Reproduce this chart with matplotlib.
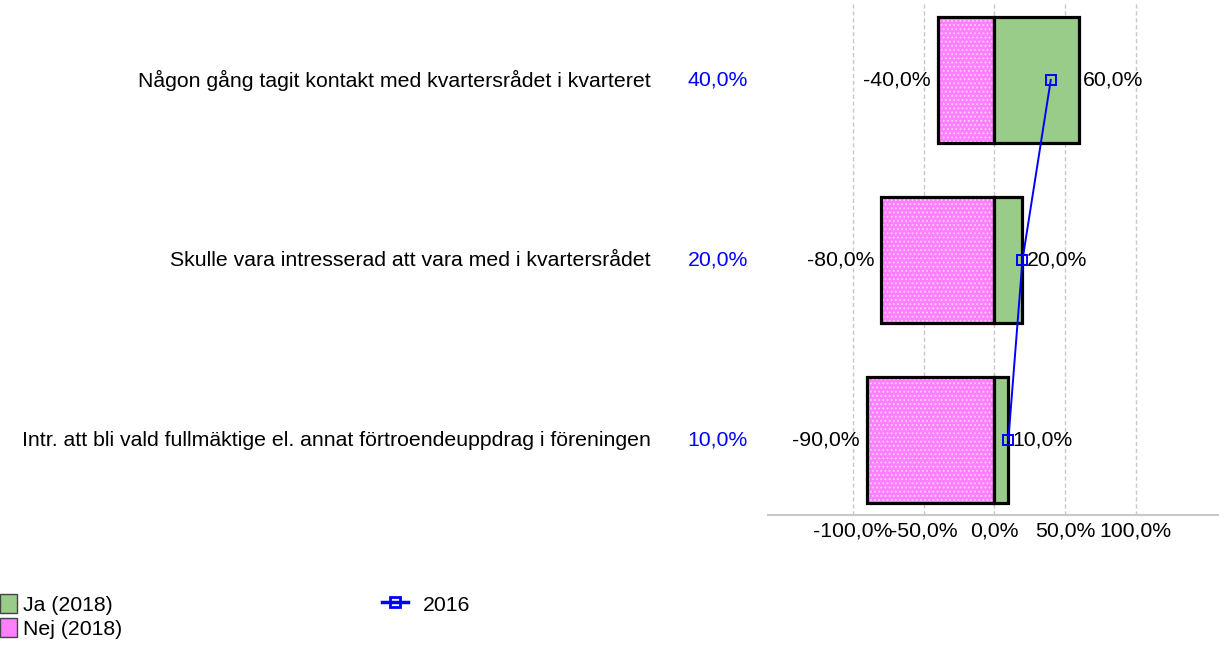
import matplotlib
matplotlib.use("Agg")
import matplotlib.pyplot as plt
from matplotlib.patches import Patch
from matplotlib.lines import Line2D
from matplotlib.transforms import blended_transform_factory

plt.rcParams["font.family"] = ["Liberation Sans", "DejaVu Sans"]
plt.rcParams["hatch.linewidth"] = 0.8

# ---- data ----
categories = [
    "Någon gång tagit kontakt med kvartersrådet i kvarteret",
    "Skulle vara intresserad att vara med i kvartersrådet",
    "Intr. att bli vald fullmäktige el. annat förtroendeuppdrag i föreningen",
]
ja_2018 = [60.0, 20.0, 10.0]
nej_2018 = [-40.0, -80.0, -90.0]
year_2016 = [40.0, 20.0, 10.0]
xticks = [-100, -50, 0, 50, 100]

GREEN = "#99cc88"
PINK = "#ff80ff"
BLUE = "#0000ff"
FS = 15.3


def pct(v):
    return f"{v:.1f}%".replace(".", ",")


W, H = 1219, 647
fig = plt.figure(figsize=(W / 100, H / 100), dpi=100)
ax = fig.add_axes([768 / W, (H - 515) / H, (W - 768) / W, (515 - 3) / H])

ypos = list(range(len(categories)))
bar_h = 0.7

# pink bars with light dotted hatch, then black outline on top
ax.barh(ypos, nej_2018, height=bar_h, color=PINK, edgecolor="#ffd0ff",
        linewidth=0, hatch="....", zorder=2)
ax.barh(ypos, nej_2018, height=bar_h, color="none", edgecolor="black",
        linewidth=2.3, zorder=3)
ax.barh(ypos, ja_2018, height=bar_h, color=GREEN, edgecolor="black",
        linewidth=2.3, zorder=3)

ax.plot(year_2016, ypos, color=BLUE, lw=1.4, marker="s", ms=6.5,
        mfc="none", mec=BLUE, mew=1.4, zorder=4)

for y, n, j in zip(ypos, nej_2018, ja_2018):
    ax.annotate(pct(n), (n, y), xytext=(-5, 0), textcoords="offset points",
                ha="right", va="center", fontsize=FS, zorder=5)
    ax.annotate(pct(j), (j, y), xytext=(3, 0), textcoords="offset points",
                ha="left", va="center", fontsize=FS, zorder=5)

# labels on the left side
tr = blended_transform_factory(fig.transFigure, ax.transData)
for y, cat, v in zip(ypos, categories, year_2016):
    ax.text(651 / W, y, cat, transform=tr, ha="right", va="center",
            fontsize=FS, clip_on=False)
    ax.text(748 / W, y, pct(v), transform=tr, ha="right", va="center",
            fontsize=FS, color=BLUE, clip_on=False)

ax.set_xlim(-160, 159)
ax.set_ylim(2 + 75 / 180, -77 / 180)
ax.set_xticks(xticks)
ax.set_xticklabels([pct(t) for t in xticks], fontsize=FS)
ax.set_yticks([])
ax.tick_params(axis="x", length=0, pad=5)
ax.grid(axis="x", color="#c8c8c8", linestyle=(0, (3, 2)), linewidth=1.0, zorder=0)
ax.set_axisbelow(True)
for side in ["top", "left", "right"]:
    ax.spines[side].set_visible(False)
ax.spines["bottom"].set_color("#c8c8c8")
ax.spines["bottom"].set_linewidth(1.5)

bar_handles = [
    Patch(facecolor=GREEN, edgecolor="#444444", linewidth=1.0),
    Patch(facecolor=PINK, edgecolor="#444444", linewidth=1.0),
]
leg1 = fig.legend(bar_handles, ["Ja (2018)", "Nej (2018)"],
                  loc="upper left", bbox_to_anchor=(0, (H - 594) / H),
                  frameon=False, fontsize=FS, borderpad=0, borderaxespad=0,
                  handlelength=0.8, handleheight=1.0, handletextpad=0.3,
                  labelspacing=0.15)
line_handle = Line2D([0], [0], color=BLUE, lw=2.5, marker="s", ms=7,
                     mfc="none", mec=BLUE, mew=2)
fig.legend([line_handle], ["2016"], loc="upper left",
           bbox_to_anchor=(382 / W, (H - 594) / H),
           frameon=False, fontsize=FS, borderpad=0, borderaxespad=0,
           handlelength=1.2, handleheight=1.0, handletextpad=0.7)

fig.savefig("out.png", dpi=100)
